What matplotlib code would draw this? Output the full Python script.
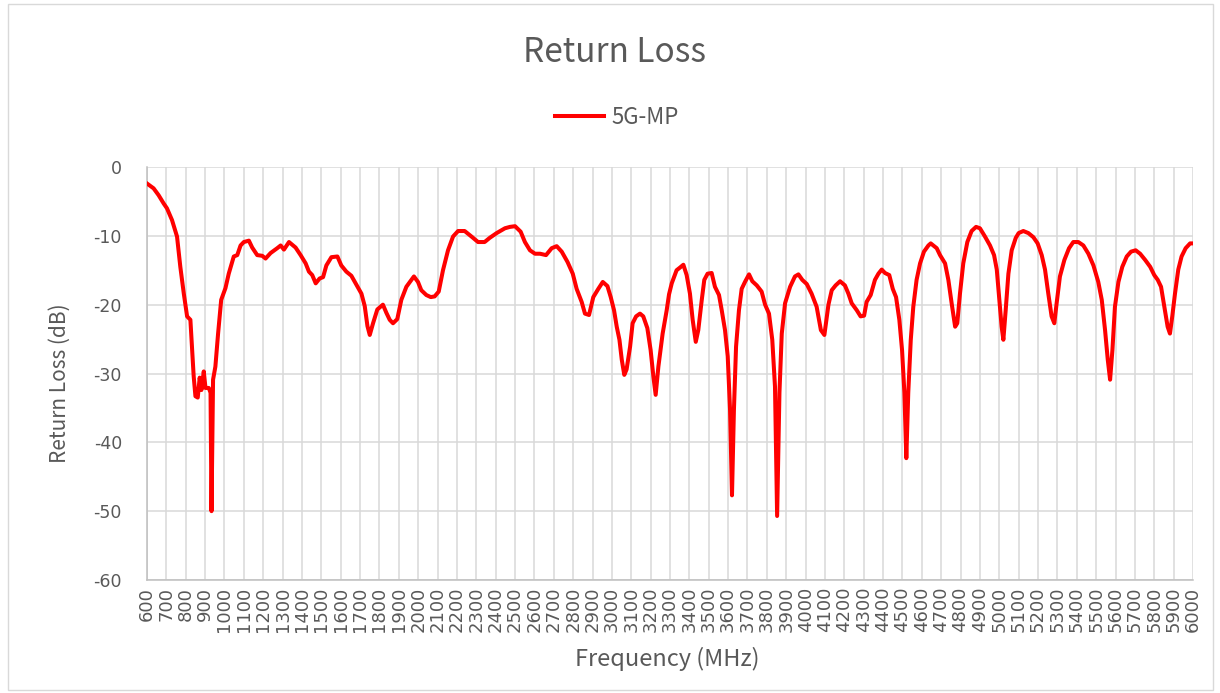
import matplotlib
matplotlib.use("Agg")
import matplotlib.pyplot as plt
from matplotlib.patches import Rectangle

# Return loss trace (MHz, dB)
freq_mhz = [
    600, 634, 660, 686, 703, 729, 755, 772, 790, 807, 824, 841, 850, 862, 872,
    881, 893, 902, 919, 928, 933, 941, 953, 967, 983, 1005, 1022, 1048, 1066,
    1083, 1100, 1126, 1143, 1169, 1195, 1212, 1238, 1272, 1290, 1307, 1333,
    1367, 1393, 1419, 1436, 1453, 1471, 1491, 1509, 1526, 1552, 1583, 1603,
    1629, 1655, 1681, 1707, 1724, 1738, 1750, 1767, 1789, 1818, 1836, 1853,
    1870, 1892, 1913, 1939, 1965, 1978, 1999, 2016, 2042, 2065, 2085, 2106,
    2128, 2154, 2180, 2206, 2240, 2275, 2309, 2343, 2369, 2405, 2448, 2474,
    2500, 2529, 2551, 2577, 2603, 2629, 2660, 2689, 2715, 2741, 2771, 2798,
    2818, 2844, 2861, 2882, 2904, 2930, 2953, 2977, 2994, 3011, 3025, 3039,
    3051, 3064, 3076, 3094, 3107, 3125, 3145, 3162, 3183, 3200, 3214, 3226,
    3240, 3262, 3283, 3295, 3309, 3334, 3352, 3369, 3386, 3403, 3417, 3433,
    3446, 3464, 3477, 3494, 3515, 3532, 3553, 3567, 3584, 3598, 3610, 3620,
    3630, 3641, 3656, 3670, 3687, 3708, 3725, 3748, 3773, 3791, 3811, 3828,
    3842, 3853, 3865, 3877, 3894, 3920, 3945, 3963, 3983, 4006, 4031, 4057,
    4079, 4097, 4118, 4135, 4155, 4178, 4203, 4221, 4238, 4264, 4284, 4302,
    4315, 4336, 4358, 4376, 4393, 4410, 4432, 4450, 4467, 4484, 4498, 4510,
    4520, 4530, 4543, 4556, 4573, 4591, 4611, 4634, 4646, 4677, 4694, 4720,
    4737, 4754, 4772, 4783, 4797, 4814, 4835, 4857, 4880, 4900, 4926, 4952,
    4973, 4987, 5000, 5012, 5021, 5033, 5047, 5064, 5085, 5100, 5124, 5150,
    5176, 5198, 5219, 5236, 5253, 5270, 5284, 5296, 5313, 5336, 5360, 5382,
    5408, 5434, 5460, 5486, 5511, 5529, 5546, 5560, 5572, 5584, 5597, 5615,
    5635, 5658, 5680, 5704, 5727, 5753, 5779, 5800, 5818, 5835, 5852, 5869,
    5881, 5893, 5907, 5924, 5941, 5962, 5985, 6000,
]
return_loss_db = [
    -2.4, -3.1, -4.1, -5.3, -6.0, -7.7, -10.1, -14.5, -18.4, -21.7, -22.2,
    -30.4, -33.3, -33.5, -30.6, -32.4, -29.7, -32.1, -32.1, -32.8, -50.0,
    -30.9, -29.0, -24.2, -19.3, -17.6, -15.5, -13.0, -12.8, -11.4, -10.9,
    -10.7, -11.7, -12.8, -12.9, -13.3, -12.5, -11.8, -11.4, -12.0, -10.9,
    -11.7, -12.8, -14.0, -15.2, -15.7, -16.9, -16.2, -16.0, -14.3, -13.1,
    -13.0, -14.3, -15.2, -15.8, -17.1, -18.4, -20.2, -23.1, -24.4, -22.7,
    -20.7, -20.0, -21.2, -22.2, -22.7, -22.1, -19.3, -17.4, -16.4, -15.9,
    -16.7, -17.9, -18.6, -18.9, -18.8, -18.1, -15.0, -12.1, -10.1, -9.3,
    -9.3, -10.1, -10.9, -10.9, -10.3, -9.6, -8.9, -8.7, -8.6, -9.4, -10.9,
    -12.1, -12.6, -12.6, -12.8, -11.8, -11.5, -12.3, -13.8, -15.5, -17.7,
    -19.6, -21.3, -21.5, -18.9, -17.7, -16.7, -17.3, -18.9, -20.8, -23.2,
    -25.1, -28.0, -30.2, -29.4, -26.1, -22.7, -21.7, -21.3, -21.7, -23.4,
    -26.6, -30.4, -33.1, -29.0, -24.2, -20.8, -18.5, -16.9, -15.0, -14.6,
    -14.2, -15.7, -18.4, -22.2, -25.4, -23.7, -19.3, -16.4, -15.5, -15.4,
    -17.4, -18.6, -20.8, -23.7, -27.5, -35.3, -47.7, -35.3, -26.1, -20.8,
    -17.7, -16.7, -15.6, -16.6, -17.2, -18.1, -20.0, -21.3, -25.1, -31.9,
    -50.7, -32.8, -24.2, -19.8, -17.4, -15.9, -15.6, -16.4, -17.0, -18.4,
    -20.3, -23.7, -24.4, -20.0, -17.9, -17.2, -16.6, -17.2, -18.4, -19.8,
    -20.8, -21.7, -21.6, -19.6, -18.6, -16.4, -15.5, -14.9, -15.4, -15.7,
    -17.7, -18.9, -22.2, -26.6, -32.8, -42.3, -32.8, -25.1, -20.3, -16.4,
    -14.0, -12.3, -11.4, -11.1, -11.8, -12.8, -14.0, -16.4, -19.8, -23.2,
    -22.7, -18.4, -14.0, -10.9, -9.3, -8.7, -8.9, -10.1, -11.4, -12.8,
    -14.9, -19.3, -23.2, -25.1, -20.8, -15.5, -12.1, -10.3, -9.6, -9.3,
    -9.6, -10.2, -11.1, -12.8, -14.9, -18.4, -21.7, -22.7, -19.8, -15.9,
    -13.5, -11.8, -10.9, -10.9, -11.4, -12.6, -14.3, -16.7, -19.3, -23.7,
    -28.0, -30.9, -26.6, -20.3, -16.7, -14.5, -13.0, -12.3, -12.1, -12.6,
    -13.5, -14.5, -15.7, -16.4, -17.4, -20.3, -23.2, -24.2, -21.7, -18.4,
    -14.9, -13.0, -11.8, -11.1, -11.1,
]
x_ticks = list(range(600, 6001, 100))
y_ticks = list(range(-60, 1, 10))

TEXT = "#595959"
GRID = "#d9d9d9"
TICK_FONT = ["DejaVu Sans"]

plt.rcParams["font.family"] = ["Noto Sans CJK SC", "DejaVu Sans"]
plt.rcParams["axes.unicode_minus"] = False

fig = plt.figure(figsize=(12.2, 6.93), dpi=100)
ax = fig.add_axes([147 / 1220, 1 - 580 / 693, (1193 - 147) / 1220, (580 - 167) / 693])

ax.plot(freq_mhz, return_loss_db, color="#ff0000", linewidth=2.9, label="5G-MP",
        solid_joinstyle="round", zorder=3)

ax.set_xlim(600, 6000)
ax.set_ylim(-60, 0)
ax.set_xticks(x_ticks)
ax.set_xticklabels([str(v) for v in x_ticks], rotation=90, fontsize=13, color=TEXT, family=TICK_FONT)
ax.set_yticks(y_ticks)
ax.set_yticklabels([str(v) for v in y_ticks], fontsize=12.5, color=TEXT, family=TICK_FONT)
ax.tick_params(axis="x", length=0, pad=5)
ax.tick_params(axis="y", length=0, pad=18)
ax.grid(True, color=GRID, linewidth=1.1)
ax.set_axisbelow(True)

for side in ("top", "right"):
    ax.spines[side].set_visible(False)
for side in ("left", "bottom"):
    ax.spines[side].set_color("#bfbfbf")
    ax.spines[side].set_linewidth(1.1)

fig.text(615 / 1220, 1 - 52 / 693, "Return Loss", ha="center", va="center", fontsize=24, color=TEXT)
fig.text(667 / 1220, 1 - 659 / 693, "Frequency (MHz)", ha="center", va="center", fontsize=17, color=TEXT)
fig.text(60 / 1220, 1 - 383 / 693, "Return Loss (dB)", ha="center", va="center", rotation=90,
         fontsize=15, color=TEXT)

leg = ax.legend(loc="center", bbox_to_anchor=(617 / 1220, 1 - 117 / 693),
                bbox_transform=fig.transFigure, frameon=False, fontsize=16,
                handlelength=2.2, handletextpad=0.35)
for t in leg.get_texts():
    t.set_color(TEXT)

fig.patches.append(Rectangle((8 / 1220, 3 / 693), 1205 / 1220, 686 / 693, transform=fig.transFigure,
                             fill=False, edgecolor=GRID, linewidth=1))

fig.savefig("out.png", dpi=100)
